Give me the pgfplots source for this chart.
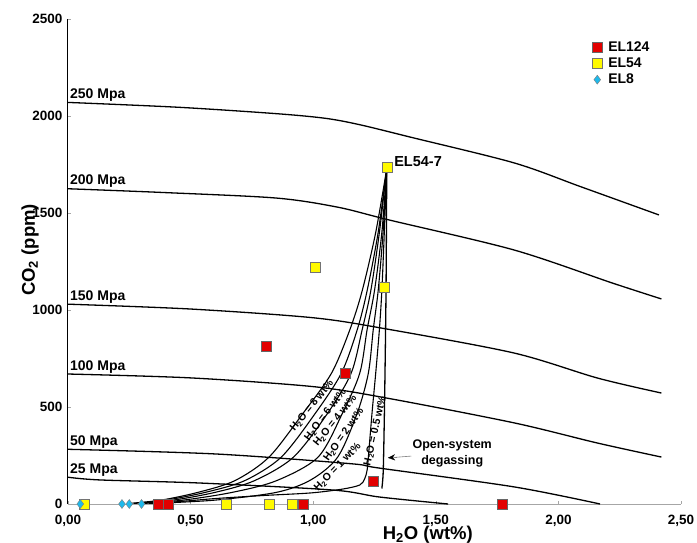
\documentclass[border=0pt]{standalone}
\usepackage{fontspec}
\setmainfont{Liberation Sans}
\usepackage{pgfplots}
\pgfplotsset{compat=1.18}
\usetikzlibrary{arrows.meta}
\definecolor{elred}{RGB}{226,0,0}
\definecolor{elyellow}{RGB}{255,250,0}
\definecolor{elcyan}{RGB}{30,185,235}
\begin{document}
\begin{tikzpicture}[x=1pt,y=1pt]
\path[use as bounding box] (-68,-39) rectangle (629,504);
\begin{axis}[
  at={(0,0)}, anchor=south west,
  scale only axis, width=613pt, height=485pt,
  xmin=0, xmax=2.5, ymin=0, ymax=2500,
  axis x line=bottom, axis y line=left,
  x axis line style={-, gray!70, line width=0.9pt},
  y axis line style={-, black, line width=1pt},
  xtick={0,0.5,1,1.5,2,2.5},
  xticklabels={{0,00},{0,50},{1,00},{1,50},{2,00},{2,50}},
  ytick={0,500,1000,1500,2000,2500},
  yticklabels={0,500,1000,1500,2000,2500},
  tick style={gray!70, line width=0.6pt},
  major tick length=3pt,
  tick align=inside,
  tick label style={font=\bfseries\fontsize{13.5}{14}\selectfont},
  xticklabel style={yshift=-8pt},
  yticklabel style={xshift=-2pt},
  xlabel={H\textsubscript{2}O (wt\%)},
  ylabel={CO\textsubscript{2} (ppm)},
  label style={font=\bfseries\fontsize{18.5}{19}\selectfont},
  xlabel style={at={(axis description cs:0.587,-0.064)}, anchor=center},
  ylabel style={at={(axis description cs:-0.062,0.524)}, anchor=center, rotate=0},
  clip=false,
  legend style={at={(axis description cs:0.850,0.962)}, anchor=north west,
    draw=none, fill=none, font=\bfseries\fontsize{14}{15}\selectfont,
    row sep=1pt, nodes={inner sep=2pt}},
  legend image code/.code={\draw[#1,only marks] plot coordinates {(0pt,0pt)}; \path[draw=none,fill=none,mark=none] (-5pt,0pt) -- (9pt,0pt);},
  legend cell align=left,
]
% isobars
\addplot[black, line width=1.3pt, smooth, forget plot] coordinates {(0,2070) (0.45,2045) (0.85,2012) (1.05,1988) (1.19,1955) (1.4,1890) (1.82,1758) (2.09,1636) (2.41,1490)};
\addplot[black, line width=1.3pt, smooth, forget plot] coordinates {(0,1625) (0.4,1605) (0.85,1577) (1.1,1530) (1.31,1464) (1.82,1309) (2.22,1139) (2.42,1057)};
\addplot[black, line width=1.3pt, smooth, forget plot] coordinates {(0,1030) (0.5,1005) (1.0,960) (1.30,902) (1.82,778) (2.16,649) (2.42,572)};
\addplot[black, line width=1.3pt, smooth, forget plot] coordinates {(0,670) (0.5,650) (1.0,605) (1.30,546) (1.82,418) (2.16,314) (2.42,242)};
\addplot[black, line width=1.3pt, smooth, forget plot] coordinates {(0,282) (0.6,258) (1.15,208) (1.27,185) (1.82,88) (2.17,0)};
\addplot[black, line width=1.3pt, smooth, forget plot] coordinates {(0,138) (0.13,124) (0.54,108) (1.08,72) (1.27,36) (1.55,0)};
% degassing paths
\addplot[black, line width=1.1pt, smooth, forget plot] coordinates {(1.30,1730) (1.255,1400) (1.20,1100) (1.15,900) (1.075,675) (0.96,470) (0.82,242) (0.68,120) (0.53,60) (0.38,20) (0.25,3)};
\addplot[black, line width=1.1pt, smooth, forget plot] coordinates {(1.30,1730) (1.265,1400) (1.22,1100) (1.18,900) (1.115,675) (1.01,470) (0.87,242) (0.72,120) (0.56,60) (0.40,20) (0.27,3)};
\addplot[black, line width=1.1pt, smooth, forget plot] coordinates {(1.30,1730) (1.27,1400) (1.235,1100) (1.20,900) (1.155,675) (1.06,470) (0.92,242) (0.76,120) (0.60,60) (0.43,20) (0.29,3)};
\addplot[black, line width=1.1pt, smooth, forget plot] coordinates {(1.30,1730) (1.28,1400) (1.25,1100) (1.22,900) (1.19,675) (1.12,470) (1.02,242) (0.85,120) (0.67,60) (0.47,20) (0.31,3)};
\addplot[black, line width=1.1pt, smooth, forget plot] coordinates {(1.30,1730) (1.285,1400) (1.265,1100) (1.245,900) (1.225,675) (1.18,470) (1.10,242) (0.99,124) (0.85,60) (0.60,20) (0.35,3)};
\addplot[black, line width=1.1pt, smooth, forget plot] coordinates {(1.30,1730) (1.29,1400) (1.28,1100) (1.27,900) (1.255,675) (1.24,470) (1.225,242) (1.22,175) (1.21,130) (1.19,98) (1.12,77) (0.99,57) (0.80,44) (0.60,28) (0.45,12) (0.33,3)};
\addplot[black, line width=1.3pt, smooth, forget plot] coordinates {(1.30,1730) (1.297,1100) (1.292,600) (1.288,300) (1.285,150) (1.28,80)};
% data
\addplot[only marks, mark=square*, mark size=5pt, mark options={fill=elred, draw=black!60, line width=0.5pt}] coordinates {(0.81,815) (1.13,672) (1.245,118) (0.37,0) (0.41,0) (0.96,0) (1.77,0)};
\addlegendentry{EL124}
\addplot[only marks, mark=square*, mark size=5pt, mark options={fill=elyellow, draw=black!55, line width=0.5pt}] coordinates {(1.30,1735) (1.01,1218) (1.29,1115) (0.065,0) (0.645,0) (0.82,0) (0.915,0)};
\addlegendentry{EL54}
\addplot[only marks, mark=diamond*, mark size=4.5pt, mark options={fill=elcyan, draw=black!50, line width=0.4pt}] coordinates {(0.05,0) (0.22,0) (0.25,0) (0.30,0)};
\addlegendentry{EL8}
% labels
\begin{scope}[every node/.style={font=\bfseries\fontsize{14}{15}\selectfont, inner sep=0pt, anchor=base west, yshift=4pt}]
\node at (axis cs:0.008,2068) {250 Mpa};
\node at (axis cs:0.008,1625) {200 Mpa};
\node at (axis cs:0.008,1030) {150 Mpa};
\node at (axis cs:0.008,670) {100 Mpa};
\node at (axis cs:0.008,282) {50 Mpa};
\node at (axis cs:0.008,138) {25 Mpa};
\end{scope}
\node[font=\bfseries\fontsize{14.5}{15}\selectfont, anchor=west, inner sep=0pt] at (axis cs:1.33,1765) {EL54-7};
\begin{scope}[every node/.style={font=\bfseries\fontsize{10.5}{11}\selectfont, inner sep=0pt, anchor=center}]
\node[rotate=51] at (axis cs:0.995,505) {H\textsubscript{2}O = 8 wt\%};
\node[rotate=53] at (axis cs:1.05,459) {H\textsubscript{2}O = 6 wt\%};
\node[rotate=51] at (axis cs:1.09,428) {H\textsubscript{2}O = 4 wt\%};
\node[rotate=55] at (axis cs:1.125,356) {H\textsubscript{2}O = 2 wt\%};
\node[rotate=46] at (axis cs:1.10,190) {H\textsubscript{2}O = 1 wt\%};
\node[rotate=77] at (axis cs:1.253,377) {H\textsubscript{2}O = 0.5 wt\%};
\end{scope}
\node[font=\bfseries\fontsize{12.5}{16}\selectfont, align=center, inner sep=0pt] at (axis cs:1.567,262) {Open-system\\degassing};
\draw[gray, line width=0.6pt] (axis cs:1.40,247) -- (axis cs:1.33,240);
\draw[-{Stealth[length=7pt,width=6pt]}, black, line width=0.1pt] (axis cs:1.34,241) -- (axis cs:1.305,238);
\end{axis}
\end{tikzpicture}
\end{document}
